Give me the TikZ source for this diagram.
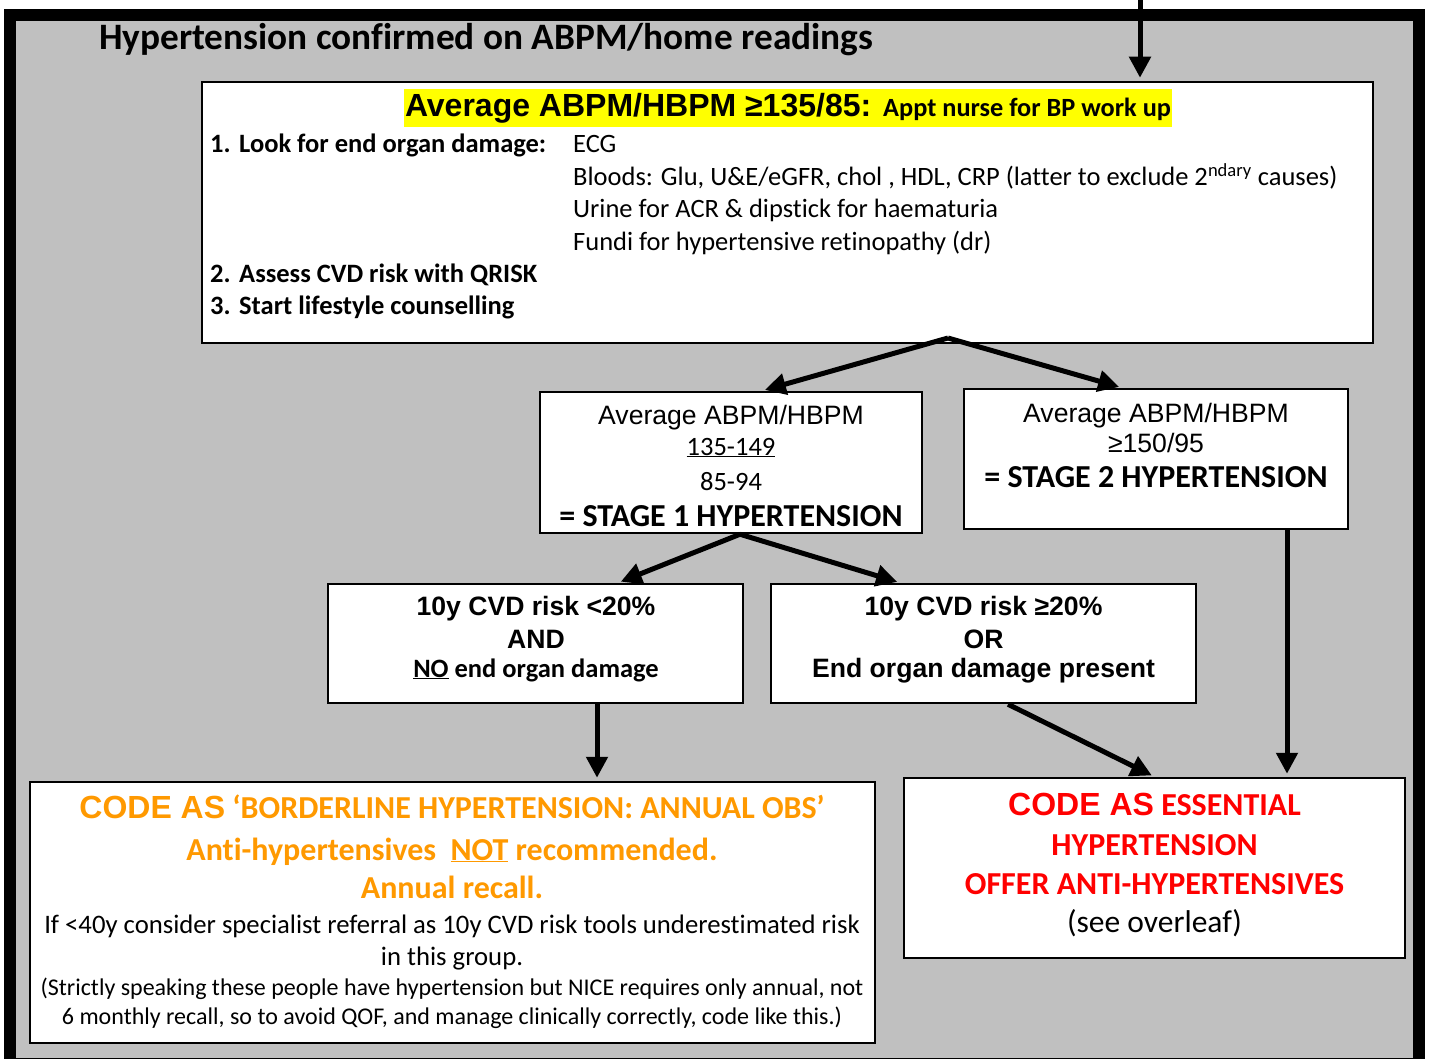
\documentclass[tikz,border=0pt]{standalone}
\usepackage{fontspec}
\setmainfont{Carlito}[Ligatures=CommonOff]
\newfontfamily\arialfont{Liberation Sans}
\usetikzlibrary{arrows.meta,calc}

\definecolor{panelgray}{RGB}{192,192,192}
\definecolor{codeorange}{RGB}{255,153,0}
\definecolor{codered}{RGB}{255,0,0}
\definecolor{markyellow}{RGB}{255,255,0}

\newcommand{\fsize}[1]{\fontsize{#1}{#1}\selectfont}

\begin{document}
\begin{tikzpicture}[x=1pt,y=-1pt,
  box/.style={draw=black, line width=2.5pt, fill=white, inner sep=0pt},
  txt/.style={inner sep=0pt, anchor=base},
  flow/.style={line width=5pt, -{Triangle[length=21pt,width=21pt]}, shorten >=3pt}]

\useasboundingbox (0,0) rectangle (1429,1059);

% Outer panel
\draw[line width=12pt, fill=panelgray] (10,15) rectangle (1419,1064);
\node[txt, anchor=base west] (title) at (99,50) {\fsize{37.3}\bfseries Hypertension confirmed on ABPM/home readings};

% Work up box
\node[box, minimum width=1171pt, minimum height=261pt] (workup) at (787.5,212.5) {};
\node[txt, fill=markyellow, text height=28pt, text depth=10pt, inner xsep=1pt] (header) at (788,117)
  {{\arialfont\bfseries\fsize{32}Average ABPM/HBPM ≥135/85:}{\bfseries\fsize{26.3}\hspace{4pt} Appt nurse for BP work up}};
\node[txt, anchor=base west] (steps) at (210,153) {\fontsize{26.5}{32.4}\selectfont
  \begin{tabular}[t]{@{}p{363pt}@{}l@{}}
  \textbf{\makebox[29pt][l]{1.}Look for end organ damage:} & ECG\\
   & Bloods: Glu, U\&E/eGFR, chol , HDL, CRP (latter to exclude 2\textsuperscript{ndary} causes)\\
   & Urine for ACR \& dipstick for haematuria\\
   & Fundi for hypertensive retinopathy (dr)\\
  \textbf{\makebox[29pt][l]{2.}Assess CVD risk with QRISK} & \\
  \textbf{\makebox[29pt][l]{3.}Start lifestyle counselling} &
  \end{tabular}};

% Stage boxes
\node[box, minimum width=382pt, minimum height=141pt] (stageone) at (731,462.5) {};
\node[txt] (s1avg) at (731,424) {\arialfont\fsize{26.6}Average ABPM/HBPM};
\node[txt] (s1sys) at (731,455) {\fsize{26.5}\underline{135-149}};
\node[txt] (s1dia) at (731,490) {\fsize{26.5}85-94};
\node[txt] (s1lab) at (731,526) {\fsize{32}\bfseries = STAGE 1 HYPERTENSION};

\node[box, minimum width=384pt, minimum height=140pt] (stagetwo) at (1156,459) {};
\node[txt] (s2avg) at (1156,422) {\arialfont\fsize{26.6}Average ABPM/HBPM};
\node[txt] (s2val) at (1156,452) {\arialfont\fsize{26.6}≥150/95};
\node[txt] (s2lab) at (1156,487) {\fsize{32}\bfseries = STAGE 2 HYPERTENSION};

% Risk boxes
\node[box, minimum width=415pt, minimum height=119pt] (lowrisk) at (535.5,643.5) {};
\node[txt] (lowa) at (536,615) {\arialfont\bfseries\fsize{26.6}10y CVD risk <20\%};
\node[txt] (lowb) at (536,648) {\arialfont\bfseries\fsize{26.6}AND};
\node[txt] (lowc) at (536,677) {\bfseries\fsize{26.5}\underline{NO} end organ damage};

\node[box, minimum width=425pt, minimum height=119pt] (highrisk) at (983.5,643.5) {};
\node[txt] (higha) at (983.5,615) {\arialfont\bfseries\fsize{26.6}10y CVD risk ≥20\%};
\node[txt] (highb) at (983.5,648) {\arialfont\bfseries\fsize{26.6}OR};
\node[txt] (highc) at (983.5,677) {\arialfont\bfseries\fsize{26.6}End organ damage present};

% Outcome boxes
\node[box, minimum width=845pt, minimum height=261pt] (borderline) at (452.5,912.5) {};
\begin{scope}[every node/.append style={text=codeorange}]
\node[txt] (bla) at (452,818) {{\arialfont\bfseries\fsize{32}CODE AS}{\bfseries\fsize{32} ‘BORDERLINE HYPERTENSION: ANNUAL OBS’}};
\node[txt] (blb) at (452,860) {\bfseries\fsize{32}Anti-hypertensives\ \ \underline{NOT} recommended.};
\node[txt] (blc) at (452,898) {\bfseries\fsize{32}Annual recall.};
\end{scope}
\node[txt] (bld) at (452,933) {\fsize{26.7}If <40y consider specialist referral as 10y CVD risk tools underestimated risk};
\node[txt] (ble) at (452,965) {\fsize{26.7}in this group.};
\node[txt] (blf) at (452,995) {\fsize{24}(Strictly speaking these people have hypertension but NICE requires only annual, not};
\node[txt] (blg) at (452,1024) {\fsize{24}6 monthly recall, so to avoid QOF, and manage clinically correctly, code like this.)};

\node[box, minimum width=501pt, minimum height=180pt] (essential) at (1154.5,868) {};
\begin{scope}[every node/.append style={text=codered}]
\node[txt] (esa) at (1154.5,815) {{\arialfont\bfseries\fsize{32}CODE AS}{\bfseries\fsize{32} ESSENTIAL}};
\node[txt] (esb) at (1154.5,855) {\bfseries\fsize{32}HYPERTENSION};
\node[txt] (esc) at (1154.5,894) {\bfseries\fsize{32}OFFER ANTI-HYPERTENSIVES};
\end{scope}
\node[txt] (esd) at (1154.5,932) {\fsize{31.5}(see overleaf)};

% Connectors
\coordinate (entry) at (1140,-5);
\coordinate (split1) at (948,338);
\coordinate (split2) at ([xshift=9pt]stageone.south);
\coordinate (s2out) at ([xshift=131pt]stagetwo.south);
\coordinate (lowout) at ([xshift=61.5pt]lowrisk.south);

\draw[flow] (entry) -- (workup.north -| entry);
\draw[flow] (split1) -- ([xshift=31pt]stageone.north);
\draw[flow] (split1) -- ([xshift=-34pt]stagetwo.north);
\draw[flow] (split2) -- ([xshift=82.5pt]lowrisk.north);
\draw[flow] (split2) -- ([xshift=-83.5pt]highrisk.north);
\draw[flow] (lowout) -- (lowout |- borderline.north);
\draw[flow] ([xshift=24.5pt]highrisk.south) -- (essential.north);
\draw[flow] (s2out) -- (s2out |- essential.north);

\end{tikzpicture}
\end{document}
